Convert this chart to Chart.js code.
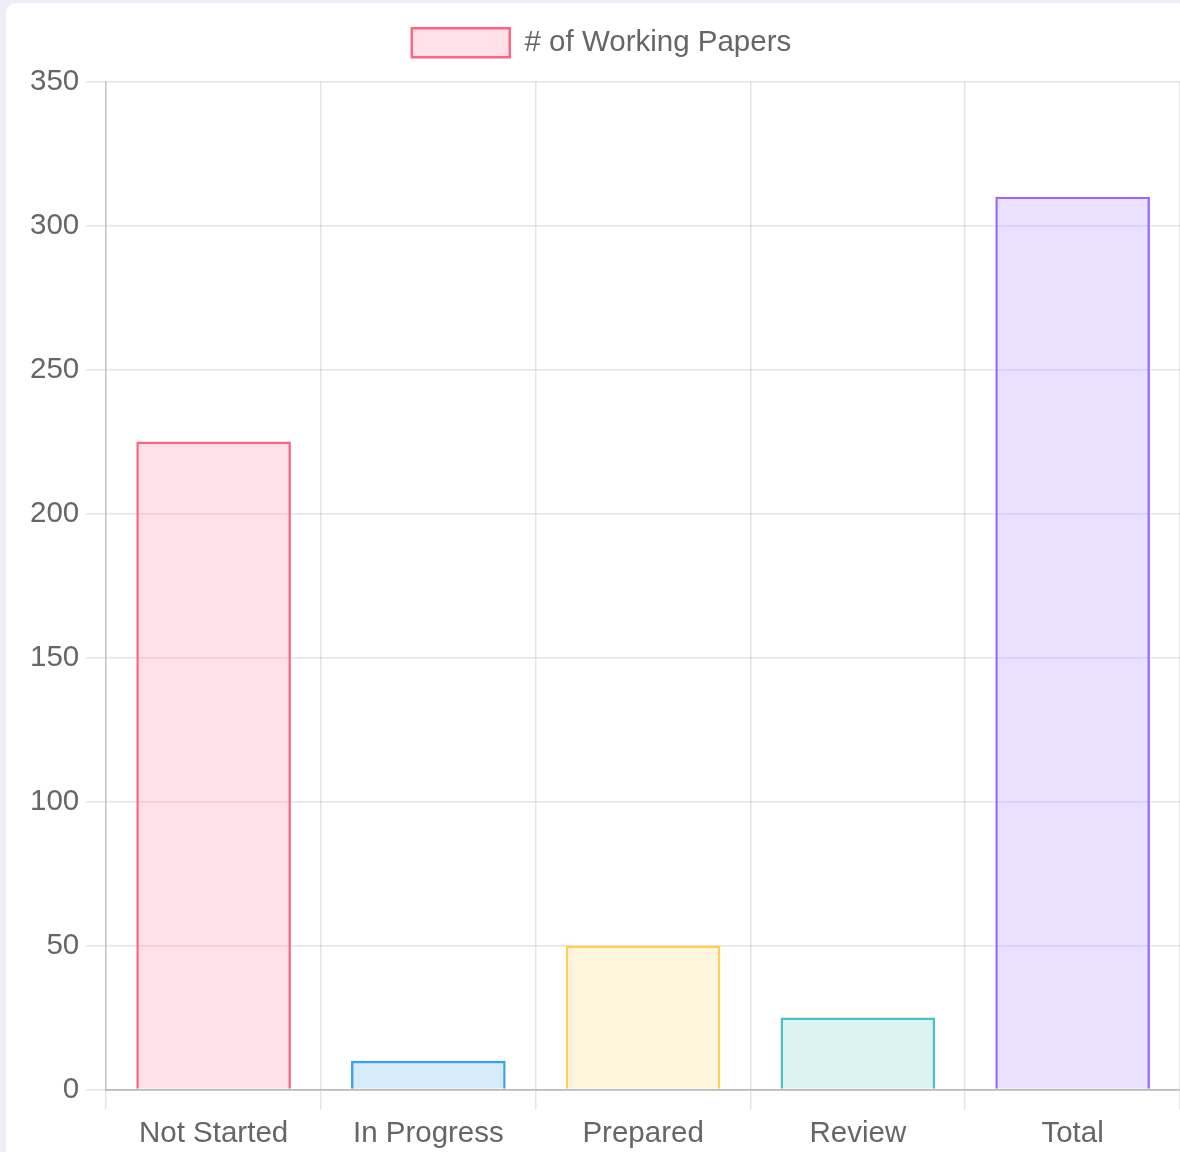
<!DOCTYPE html>
<html>
<head>
<meta charset="utf-8">
<script src="https://cdn.jsdelivr.net/npm/chart.js@4/dist/chart.umd.min.js"></script>
<style>
    html, body { margin: 0; padding: 0; overflow: hidden; }
    body { background: #eeeef8; width: 1180px; height: 1152px; }
    .card {
        position: absolute;
        left: 6px;
        top: 3px;
        width: 1190px;
        height: 1170px;
        background: #fff;
        border-radius: 10px;
    }
    .chart-box { position: relative; width: 1174px; height: 1156px; }
</style>
</head>
<body>
<div class="card">
    <div class="chart-box"><canvas id="papers-chart"></canvas></div>
</div>
<script>
const categories = ["Not Started", "In Progress", "Prepared", "Review", "Total"];
const paperCounts = [225, 10, 50, 25, 310];
const fillColors = [
    'rgba(255, 99, 132, 0.2)',
    'rgba(54, 162, 235, 0.2)',
    'rgba(255, 206, 86, 0.2)',
    'rgba(75, 192, 192, 0.2)',
    'rgba(153, 102, 255, 0.2)'
];
const lineColors = [
    'rgb(255, 99, 132)',
    'rgb(54, 162, 235)',
    'rgb(255, 206, 86)',
    'rgb(75, 192, 192)',
    'rgb(153, 102, 255)'
];

const fontFamily = "'Liberation Sans', Arial, Helvetica, sans-serif";
const fontSize = 29.5;
const textColor = '#666';

const papersChart = document.getElementById("papers-chart");

// extra room under the legend, before the plot starts
const legendSpacing = {
    id: 'legendSpacing',
    beforeInit(chart) {
        const originalFit = chart.legend.fit;
        chart.legend.fit = function fit() {
            originalFit.bind(chart.legend)();
            this.height += 14;
        };
    }
};

new Chart(papersChart, {
    type: 'bar',
    data: {
        labels: categories,
        datasets: [{
            label: '# of Working Papers',
            data: paperCounts,
            backgroundColor: fillColors,
            borderColor: lineColors,
            borderWidth: 2.4,
            barPercentage: 0.9,
            categoryPercentage: 0.8
        }]
    },
    options: {
        responsive: true,
        maintainAspectRatio: false,
        animation: false,
        devicePixelRatio: 1,
        layout: {
            padding: { left: 17, right: 0, top: 1, bottom: 0 }
        },
        plugins: {
            tooltip: { enabled: false },
            legend: {
                labels: {
                    color: textColor,
                    font: { family: fontFamily, size: fontSize },
                    boxWidth: 98,
                    boxHeight: 29,
                    padding: 24,
                    generateLabels: (chart) => [{
                        text: '# of Working Papers',
                        fillStyle: fillColors[0],
                        strokeStyle: lineColors[0],
                        lineWidth: 2.4,
                        fontColor: textColor,
                        datasetIndex: 0
                    }]
                }
            }
        },
        scales: {
            x: {
                grid: { color: 'rgba(0,0,0,0.1)', lineWidth: 1.5, tickLength: 20, offset: true },
                border: { color: 'rgba(0,0,0,0.18)', width: 2 },
                ticks: { color: textColor, font: { family: fontFamily, size: fontSize }, padding: 7 }
            },
            y: {
                min: 0,
                max: 350,
                grid: { color: 'rgba(0,0,0,0.1)', lineWidth: 1.5, tickLength: 20 },
                border: { color: 'rgba(0,0,0,0.15)', width: 1.5 },
                ticks: { stepSize: 50, color: textColor, font: { family: fontFamily, size: fontSize }, padding: 7 }
            }
        }
    },
    plugins: [legendSpacing]
});
</script>
</body>
</html>
